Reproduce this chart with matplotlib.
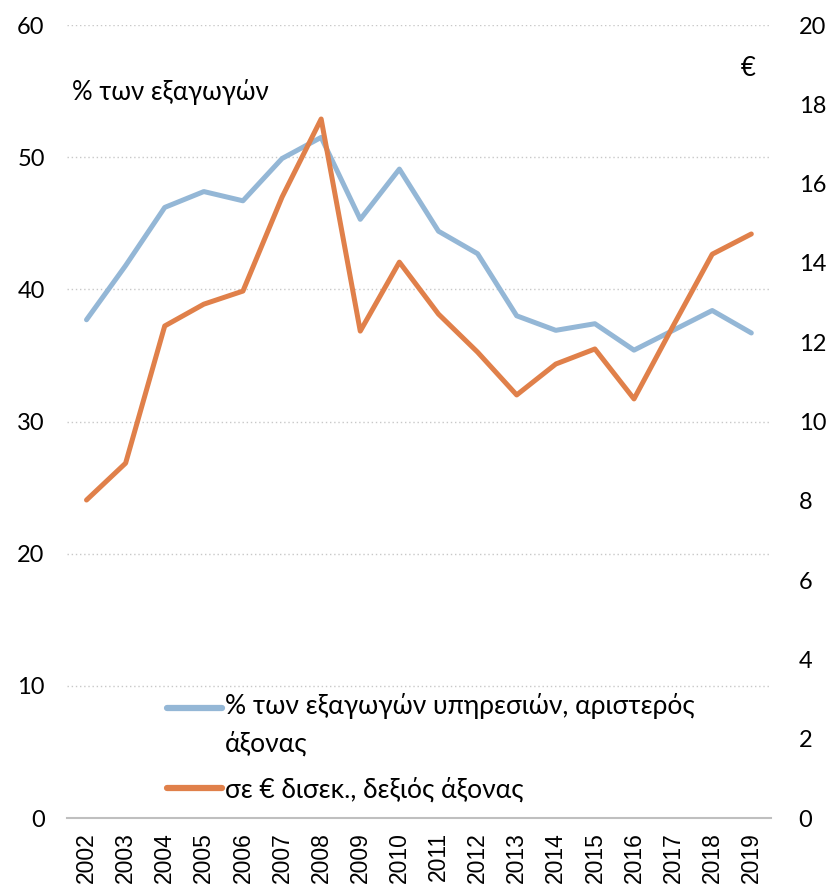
import matplotlib
matplotlib.use("Agg")
import matplotlib.pyplot as plt
from matplotlib.lines import Line2D
from matplotlib.legend_handler import HandlerLine2D

years = ["2002", "2003", "2004", "2005", "2006", "2007", "2008", "2009", "2010",
         "2011", "2012", "2013", "2014", "2015", "2016", "2017", "2018", "2019"]
share_pct = [37.7, 41.8, 46.2, 47.4, 46.7, 49.9, 51.5, 45.3, 49.1,
             44.4, 42.7, 38.0, 36.9, 37.4, 35.4, 36.9, 38.4, 36.7]
eur_bn = [8.02, 8.95, 12.41, 12.96, 13.29, 15.66, 17.63, 12.28, 14.02,
          12.71, 11.75, 10.67, 11.45, 11.83, 10.57, 12.41, 14.22, 14.73]

left_ticks = [0, 10, 20, 30, 40, 50, 60]
right_ticks = [0, 2, 4, 6, 8, 10, 12, 14, 16, 18, 20]

label_share = "% των εξαγωγών υπηρεσιών, αριστερός\nάξονας"
label_eur = "σε € δισεκ., δεξιός άξονας"

blue = "#94B7D6"
orange = "#E0804A"
txtfont = ["Lato", "DejaVu Sans"]


class ShiftedLine(HandlerLine2D):
    def __init__(self, shift=0.0, **kw):
        super().__init__(**kw)
        self.shift = shift

    def create_artists(self, legend, orig_handle, xdescent, ydescent,
                       width, height, fontsize, trans):
        arts = super().create_artists(legend, orig_handle, xdescent, ydescent,
                                      width, height, fontsize, trans)
        for a in arts:
            if isinstance(a, Line2D):
                a.set_ydata([y + self.shift for y in a.get_ydata()])
        return arts


fig = plt.figure(figsize=(8.37, 8.94), dpi=100)
ax = fig.add_axes([0.080, 0.085, 0.841, 0.887])
ax2 = ax.twinx()

x = list(range(len(years)))
ax.plot(x, share_pct, color=blue, lw=3.6, solid_capstyle="round", solid_joinstyle="round", zorder=3)
ax2.plot(x, eur_bn, color=orange, lw=3.6, solid_capstyle="round", solid_joinstyle="round", zorder=3)

ax.set_xlim(-0.5, len(years) - 0.5)
ax.set_ylim(0, 60)
ax2.set_ylim(0, 20)
ax.set_yticks(left_ticks)
ax2.set_yticks(right_ticks)
ax.set_xticks(x)
ax.set_xticklabels(years, rotation=90, fontsize=16.5, family=["Liberation Sans", "DejaVu Sans"])
ax.set_yticklabels([str(t) for t in left_ticks], fontsize=17, family=txtfont)
ax2.set_yticklabels([str(t) for t in right_ticks], fontsize=17, family=txtfont)

for a in (ax, ax2):
    for s in a.spines.values():
        s.set_visible(False)
    a.tick_params(length=0)
ax.spines["bottom"].set_visible(True)
ax.spines["bottom"].set_color("#BFBFBF")
ax.spines["bottom"].set_linewidth(1.5)
ax.tick_params(axis="y", pad=16)
ax2.tick_params(axis="y", pad=20)
ax.tick_params(axis="x", pad=10)

for t in left_ticks[1:]:
    ax.axhline(t, color="#C8C8C8", lw=1.0, ls=(0, (1, 2)), zorder=1)

ax.text(0.007, 0.915, "% των εξαγωγών", transform=ax.transAxes, fontsize=18.5,
        family=txtfont, ha="left", va="center")
ax.text(0.968, 0.945, "€", transform=ax.transAxes, fontsize=18.5,
        family=txtfont, ha="center", va="center")

h_share = Line2D([], [], color=blue, lw=4.5, solid_capstyle="round")
h_eur = Line2D([], [], color=orange, lw=4.5, solid_capstyle="round")
leg = ax.legend([h_share, h_eur], [label_share, label_eur], loc="lower left",
                bbox_to_anchor=(0.108, -0.0106), frameon=False,
                prop={"family": txtfont, "size": 19}, handlelength=2.1,
                handletextpad=0.1, labelspacing=0.78,
                handler_map={h_share: ShiftedLine(shift=13.0),
                             h_eur: ShiftedLine(shift=0.0)})
for t in leg.get_texts():
    t.set_linespacing(1.6)

fig.savefig("out.png", dpi=100)
